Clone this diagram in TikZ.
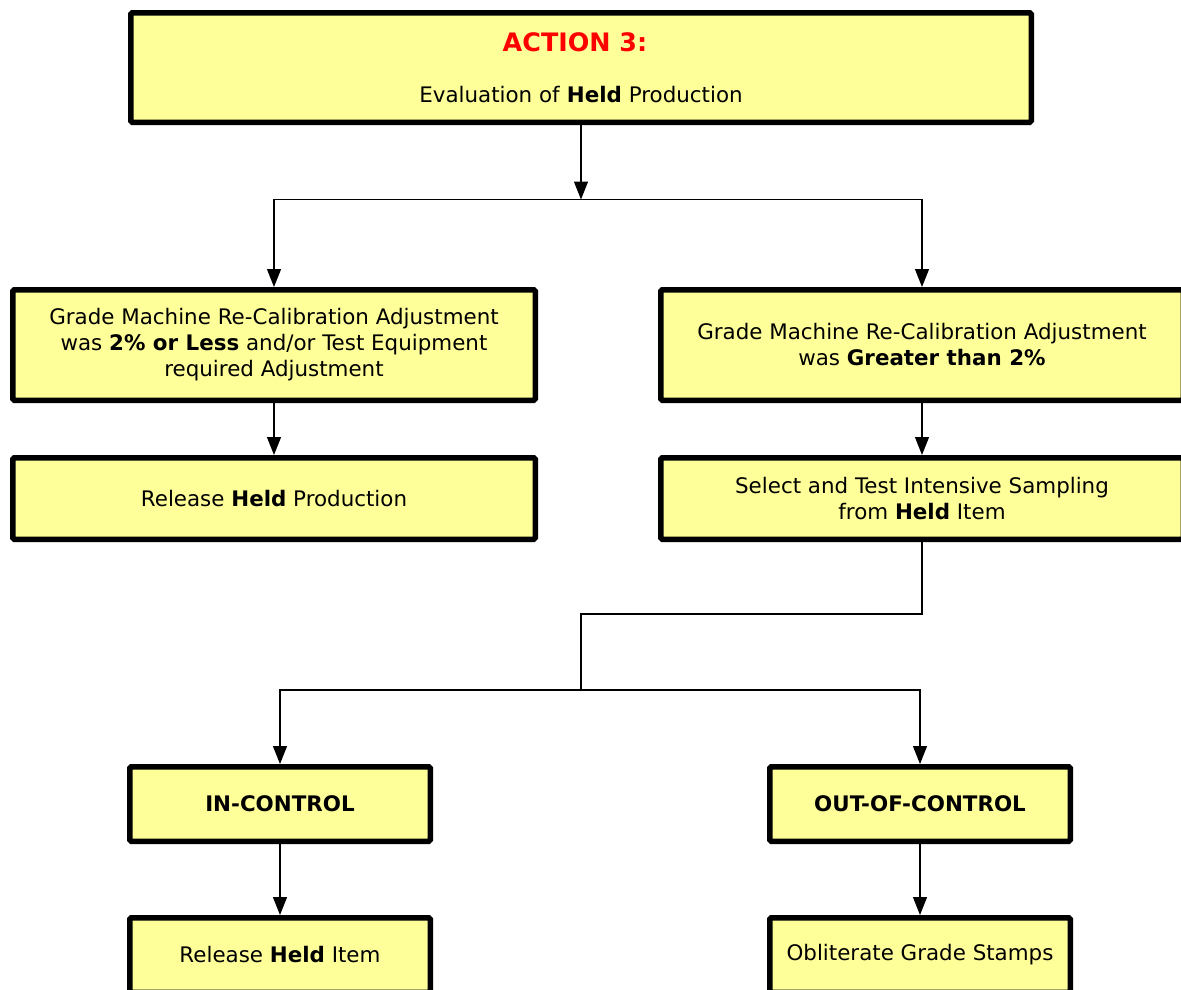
\documentclass[tikz,border=0pt]{standalone}
\usepackage{fontspec}
\setmainfont{DejaVu Sans}
\usetikzlibrary{arrows.meta}
\definecolor{boxfill}{RGB}{255,255,153}
\begin{document}
\begin{tikzpicture}[x=1pt,y=-1pt,
  box/.style={draw=black, fill=boxfill, line width=5.5pt, rounded corners=1.5pt,
    align=center, inner sep=0pt, font=\fontsize{21.4}{26}\selectfont},
  conn/.style={draw=black, line width=1.1pt},
  arr/.style={conn, -{Triangle[length=18pt,width=14pt]}},
  txt/.style={inner sep=0pt, align=center, font=\fontsize{21.4}{26}\selectfont}]
\useasboundingbox (0,0) rectangle (1181,989);
\clip (0,0) rectangle (1181,989);
% boxes
\node[box, minimum width=900.5pt, minimum height=109.5pt] (top) at (581,67.5) {};
\node[txt, text=red, font=\fontsize{25.4}{30}\selectfont\bfseries] (ttl) at (575,42) {ACTION 3:};
\node[txt] (sub) at (581,95) {Evaluation of \textbf{Held} Production};
\node[box, minimum width=522.5pt, minimum height=110.5pt] (L1) at (274,345)
  {Grade Machine Re-Calibration Adjustment\\was \textbf{2\% or Less} and/or Test Equipment\\required Adjustment};
\node[box, minimum width=522.5pt, minimum height=110.5pt] (R1) at (922,345)
  {Grade Machine Re-Calibration Adjustment\\was \textbf{Greater than 2\%}};
\node[box, minimum width=522.5pt, minimum height=81.5pt] (L2) at (274,498.5)
  {Release \textbf{Held} Production};
\node[box, minimum width=522.5pt, minimum height=81.5pt] (R2) at (922,498.5)
  {Select and Test Intensive Sampling\\from \textbf{Held} Item};
\node[box, minimum width=300.5pt, minimum height=74.5pt, font=\fontsize{21.4}{26}\selectfont\bfseries] (IC) at (280,804) {IN-CONTROL};
\node[box, minimum width=300.5pt, minimum height=74.5pt, font=\fontsize{21.4}{26}\selectfont\bfseries] (OOC) at (920,804) {OUT-OF-CONTROL};
\node[box, minimum width=300.5pt, minimum height=74.5pt] (RI) at (280,955) {Release \textbf{Held} Item};
\node[box, minimum width=300.5pt, minimum height=74.5pt] (OG) at (920,955) {Obliterate Grade Stamps};
% connectors
\coordinate (j1) at (581,199.5);
\coordinate (k1) at (922,614);
\coordinate (k2) at (581,614);
\coordinate (j2) at (581,690);
\draw[arr] (top.south) -- (j1);
\draw[arr] (j1) -| (L1.north);
\draw[arr] (j1) -| (R1.north);
\draw[arr] (L1.south) -- (L2.north);
\draw[arr] (R1.south) -- (R2.north);
\draw[conn] (R2.south) -- (k1) -- (k2) -- (j2);
\draw[arr] (j2) -| (IC.north);
\draw[arr] (j2) -| (OOC.north);
\draw[arr] (IC.south) -- (RI.north);
\draw[arr] (OOC.south) -- (OG.north);
\end{tikzpicture}
\end{document}
